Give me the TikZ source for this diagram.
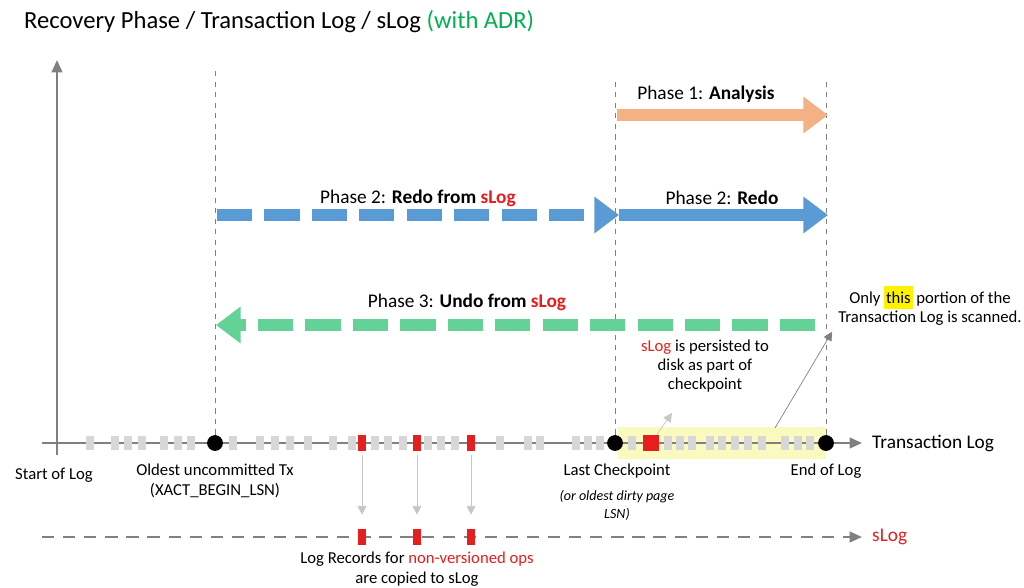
\documentclass[tikz,border=0pt]{standalone}
\usepackage{fontspec}
\setmainfont{Carlito}
\usetikzlibrary{arrows.meta}
\definecolor{cblue}{RGB}{91,155,213}
\definecolor{corange}{RGB}{244,177,131}
\definecolor{cgreen}{RGB}{100,210,150}
\definecolor{ctitle}{RGB}{0,176,80}
\definecolor{cred}{RGB}{230,30,30}
\definecolor{cgray}{RGB}{128,128,128}
\definecolor{ctick}{RGB}{215,215,215}
\definecolor{cyell}{RGB}{250,250,190}
\begin{document}
\begin{tikzpicture}[x=0.02cm,y=-0.02cm,>=Stealth,
  font=\fontsize{9.5}{11}\selectfont,
  axis line/.style={cgray,line width=1.3pt},
  guide line/.style={cgray,dashed,thin},
  phase arrow/.style={line width=7pt,-{Triangle[length=14pt,width=20pt]}},
  phase label/.style={font=\fontsize{11}{13}\selectfont},
  tick mark/.style={fill=ctick,minimum width=5pt,minimum height=8pt,inner sep=0pt},
  red mark/.style={fill=cred,minimum width=4pt,minimum height=9pt,inner sep=0pt},
  dot node/.style={circle,fill=black,minimum size=9pt,inner sep=0pt},
  copy arrow/.style={ctick!80!gray,thin,-{Triangle[length=5pt,width=5pt]}}]
  \useasboundingbox (0,0) rectangle (1024,588);

  % title
  \node[anchor=west,font=\fontsize{14}{16}\selectfont] (title) at (18,22)
    {Recovery Phase / Transaction Log / sLog \textcolor{ctitle}{(with ADR)}};

  % highlight of the scanned part
  \fill[cyell] (618,427) rectangle (826,459);

  % axes
  \coordinate (ytop) at (57,60);
  \coordinate (ybot) at (57,455);
  \draw[axis line,-{Triangle[length=7pt,width=6pt]}] (ybot) -- (ytop);
  \coordinate (xl) at (42,443);
  \coordinate (xr) at (862,443);
  \draw[axis line,-{Triangle[length=7pt,width=6pt]}] (xl) -- (xr);
  \node[anchor=west,font=\fontsize{11}{13}\selectfont] (tlog) at (866,443) {Transaction Log};

  % log records
  \foreach \x in {90,115,128,142,164,178,191,233,260,275,290,308,333,352,375,388,403,428,441,455,500,528,540,576,588,600,632,668,680,692,710,722,735,748,762,785,798,810}
    \node[tick mark] at (\x,443) {};
  \foreach \x/\n in {362/r1,417/r2,471/r3}
    \node[red mark] (\n) at (\x,443) {};
  \node[fill=cred,minimum width=9pt,minimum height=9pt,inner sep=0pt] (ckrec) at (651,443) {};

  % key points
  \node[dot node] (oldest) at (215,443) {};
  \node[dot node] (ckpt) at (615,443) {};
  \node[dot node] (eol) at (826,443) {};
  \coordinate (oldtop) at (215,68);
  \coordinate (cktop) at (615,78);
  \coordinate (eoltop) at (826,78);
  \draw[guide line] (oldest) -- (oldtop);
  \draw[guide line] (ckpt) -- (cktop);
  \draw[guide line] (eol) -- (eoltop);

  \node[anchor=north] (startlbl) at (54,462) {Start of Log};
  \node[anchor=north,align=center] (oldlbl) at (215,458) {Oldest uncommitted Tx\\(XACT\_BEGIN\_LSN)};
  \node[anchor=north] (cklbl) at (617,458) {Last Checkpoint};
  \node[anchor=north,align=center,font=\fontsize{8}{10}\selectfont\itshape] (cklbl2) at (617,484) {(or oldest dirty page\\LSN)};
  \node[anchor=north] (eollbl) at (826,458) {End of Log};

  % phases
  \coordinate (p1s) at (617,115);
  \coordinate (p1e) at (828,115);
  \draw[phase arrow,corange] (p1s) -- (p1e);
  \node[phase label] (p1) at (706,94) {Phase 1: \textbf{Analysis}};

  \coordinate (p2s) at (217,215);
  \coordinate (p2m) at (619,215);
  \coordinate (p2e) at (828,215);
  \draw[phase arrow,cblue,dash pattern=on 20pt off 7pt] (p2s) -- (p2m);
  \draw[phase arrow,cblue] (p2m) -- (p2e);
  \node[phase label] (p2a) at (418,198) {Phase 2: \textbf{Redo from \textcolor{cred}{sLog}}};
  \node[phase label] (p2b) at (722,198) {Phase 2: \textbf{Redo}};

  \coordinate (p3s) at (815,325);
  \coordinate (p3e) at (216,325);
  \draw[phase arrow,cgreen,dash pattern=on 20pt off 7pt] (p3s) -- (p3e);
  \node[phase label] (p3) at (467,302) {Phase 3: \textbf{Undo from \textcolor{cred}{sLog}}};

  % annotations
  \node[align=center] (scan) at (930,306)
    {Only \colorbox{yellow}{\kern-2pt this\kern-2pt} portion of the\\Transaction Log is scanned.};
  \coordinate (scanfrom) at (775,428);
  \draw[cgray,thin,-{Triangle[length=5pt,width=5pt]}] (scanfrom) -- (scan.south west);
  \node[align=center] (persist) at (705,366)
    {\textcolor{cred}{sLog} is persisted to\\disk as part of\\checkpoint};
  \coordinate (persistto) at (672,413);
  \draw[copy arrow] (ckrec) -- (persistto);

  % sLog
  \coordinate (sl) at (42,537);
  \coordinate (sr) at (862,537);
  \draw[axis line,dashed,dash pattern=on 7pt off 5pt,-{Triangle[length=7pt,width=6pt]}] (sl) -- (sr);
  \node[anchor=west,text=cred,font=\fontsize{11}{13}\selectfont] (slog) at (866,537) {sLog};
  \foreach \x/\n in {362/s1,417/s2,471/s3}
    \node[red mark] (\n) at (\x,537) {};
  \draw[copy arrow] (r1) ++(0,12) -- ([yshift=8pt]s1.north);
  \draw[copy arrow] (r2) ++(0,12) -- ([yshift=8pt]s2.north);
  \draw[copy arrow] (r3) ++(0,12) -- ([yshift=8pt]s3.north);
  \node[align=center] (copied) at (417,569)
    {Log Records for \textcolor{cred}{non-versioned ops}\\are copied to sLog};
\end{tikzpicture}
\end{document}
